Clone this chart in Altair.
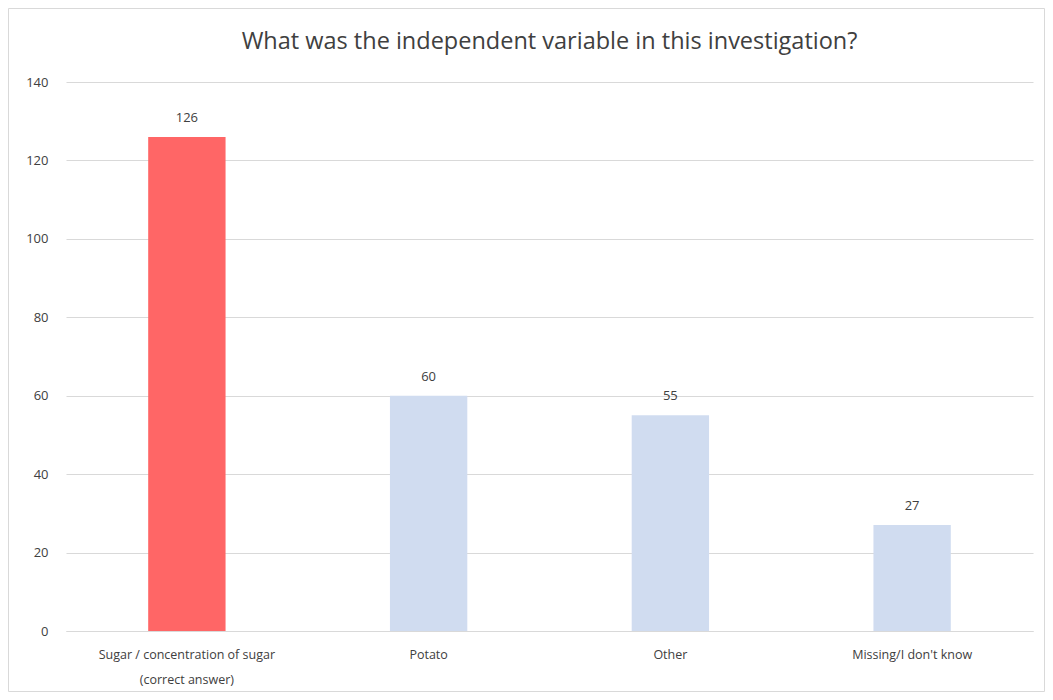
import altair as alt
import pandas as pd

categories = ["Sugar / concentration of sugar|(correct answer)", "Potato", "Other", "Missing/I don't know"]
values = [126, 60, 55, 27]
colors = ["#FF6666", "#D0DCF0", "#D0DCF0", "#D0DCF0"]

df = pd.DataFrame({"cat": categories, "val": values, "color": colors})

FONT = "Open Sans"

base = alt.Chart(df)

frame = alt.Chart(pd.DataFrame({"a": [0]})).mark_rect(
    fill=None, stroke="#D9D9D9", strokeWidth=1, clip=False
).encode(
    x=alt.value(-57.5), x2=alt.value(978.5), y=alt.value(-73.5), y2=alt.value(609.5)
)

bars = base.mark_bar().encode(
    x=alt.X("cat:N", sort=None, title=None,
            scale=alt.Scale(paddingInner=0.68, paddingOuter=0.34),
            axis=alt.Axis(labelAngle=0, labelExpr="split(datum.label, '|')",
                          labelFont=FONT, labelFontSize=12.5, labelColor="#404040",
                          labelPadding=17, ticks=False, domain=True,
                          domainColor="#D9D9D9", labelLineHeight=25)),
    y=alt.Y("val:Q", title=None,
            scale=alt.Scale(domain=[0, 140]),
            axis=alt.Axis(values=[0, 20, 40, 60, 80, 100, 120, 140], grid=True,
                          gridColor="#D9D9D9", domain=False, ticks=False,
                          labelFont=FONT, labelFontSize=13, labelColor="#404040",
                          labelPadding=18)),
    color=alt.Color("color:N", scale=None),
)

text = base.mark_text(dy=-12, baseline="bottom", font=FONT, fontSize=13, color="#404040").encode(
    x=alt.X("cat:N", sort=None),
    y="val:Q",
    text="val:Q",
)

chart = alt.layer(frame, bars, text).properties(
    width=967, height=549,
    title=alt.TitleParams("What was the independent variable in this investigation?",
                          font=FONT, fontSize=23.5, fontWeight="normal", color="#404040",
                          anchor="middle", offset=-45),
    padding=0,
).configure(background="white").configure_view(stroke=None)

chart.save("out.html", embed_options={"renderer": "svg", "actions": False})
